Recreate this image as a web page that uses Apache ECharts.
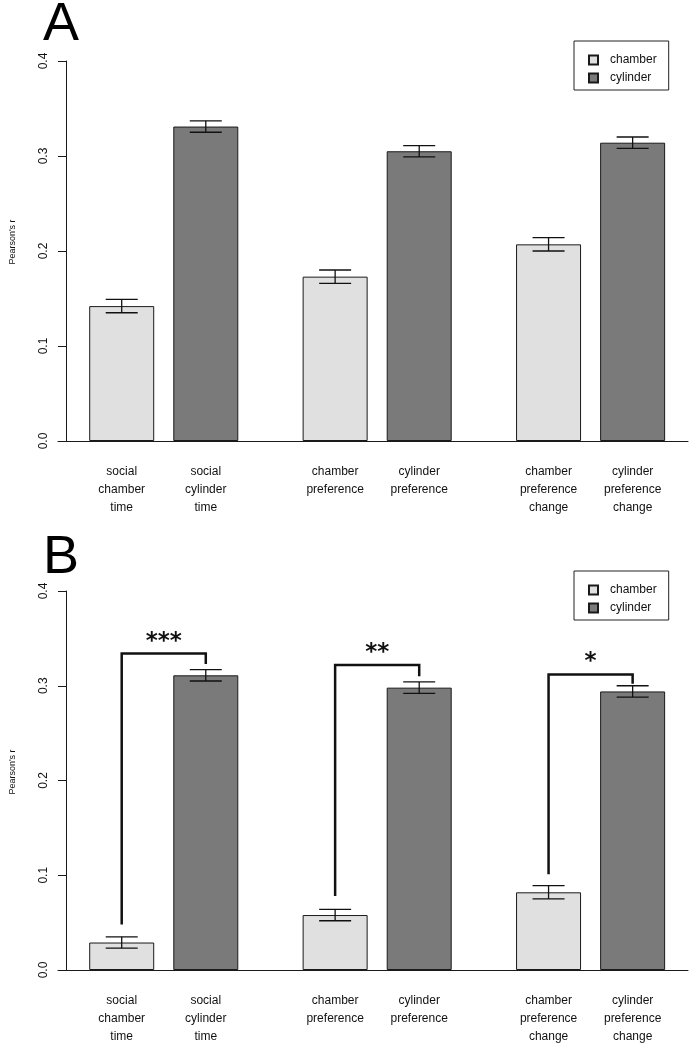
<!DOCTYPE html>
<html><head><meta charset="utf-8">
<script src="https://cdn.jsdelivr.net/npm/echarts@6/dist/echarts.min.js"></script>
<style>html,body{margin:0;padding:0;background:#fff}#c{width:699px;height:1050px}</style>
</head><body><div id="c"></div>
<script>
// ---- data ----
const panelLetters = ['A', 'B'];
const seriesNames = ['chamber', 'cylinder'];
const chamberLabels = ['social\nchamber\ntime', 'chamber\npreference', 'chamber\npreference\nchange'];
const cylinderLabels = ['social\ncylinder\ntime', 'cylinder\npreference', 'cylinder\npreference\nchange'];
const yTickValues = [0, 0.1, 0.2, 0.3, 0.4];
const yTickLabels = ['0.0', '0.1', '0.2', '0.3', '0.4'];
const yAxisTitle = "Pearson's r";

const chamberA = [0.142, 0.173, 0.207];
const chamberErrA = [0.007, 0.007, 0.007];
const cylinderA = [0.331, 0.305, 0.314];
const cylinderErrA = [0.006, 0.006, 0.006];

const chamberB = [0.029, 0.058, 0.082];
const chamberErrB = [0.006, 0.006, 0.007];
const cylinderB = [0.311, 0.298, 0.294];
const cylinderErrB = [0.006, 0.006, 0.006];

const sigStars = ['***', '**', '*'];
const bracketLeftLow = [0.048, 0.078, 0.101];
const bracketTop = [0.334, 0.322, 0.312];
const bracketRightLow = [0.323, 0.310, 0.302];

// ---- layout helpers (R barplot units: bar width 1, space 0.3 within, 1 between) ----
const FONT = "'Liberation Sans', Arial, sans-serif";
const GROUP_STEP = 3.3, FIRST_CENTER = 1.5, WITHIN_STEP = 1.3;
const chamberX = g => FIRST_CENTER + GROUP_STEP * g;
const cylinderX = g => FIRST_CENTER + WITHIN_STEP + GROUP_STEP * g;
const labelXs = [], labelTexts = [];
for (let g = 0; g < 3; g++) {
  labelXs.push(chamberX(g)); labelTexts.push(chamberLabels[g]);
  labelXs.push(cylinderX(g)); labelTexts.push(cylinderLabels[g]);
}
const labelFor = v => {
  for (let i = 0; i < labelXs.length; i++) if (Math.abs(labelXs[i] - v) < 0.01) return labelTexts[i];
  return '';
};

const panels = [
  { top: 61, height: 380, letterDy: -36, chamber: chamberA, chamberErr: chamberErrA, cylinder: cylinderA, cylinderErr: cylinderErrA, sig: false },
  { top: 591, height: 379, letterDy: -33, chamber: chamberB, chamberErr: chamberErrB, cylinder: cylinderB, cylinderErr: cylinderErrB, sig: true }
];

const AX = '#1a1a1a';
const grid = [], xAxis = [], yAxis = [], series = [], legend = [], graphic = [];

function errRender(params, api) {
  const x = api.value(0), v = api.value(1), e = api.value(2);
  const t = api.coord([x, v + e]), b = api.coord([x, v - e]);
  const hw = 16, st = { stroke: '#111', lineWidth: 1.3 };
  return { type: 'group', children: [
    { type: 'line', shape: { x1: t[0], y1: t[1], x2: b[0], y2: b[1] }, style: st },
    { type: 'line', shape: { x1: t[0] - hw, y1: t[1], x2: t[0] + hw, y2: t[1] }, style: st },
    { type: 'line', shape: { x1: b[0] - hw, y1: b[1], x2: b[0] + hw, y2: b[1] }, style: st }
  ]};
}
function bracketRender(params, api) {
  const xl = api.value(0), xr = api.value(1), lo = api.value(2), top = api.value(3), rlo = api.value(4);
  const p1 = api.coord([xl, lo]), p2 = api.coord([xl, top]), p3 = api.coord([xr, top]), p4 = api.coord([xr, rlo]);
  return { type: 'group', children: [
    { type: 'polyline', shape: { points: [p1, p2, p3, p4] }, style: { stroke: '#111', lineWidth: 2.5, fill: null } },
    { type: 'text', x: (p2[0] + p3[0]) / 2, y: p2[1] - 12,
      style: { text: sigStars[params.dataIndex], font: "bold 23px 'DejaVu Sans', sans-serif", fill: '#111', textAlign: 'center', textVerticalAlign: 'middle' } }
  ]};
}

panels.forEach((p, i) => {
  grid.push({ left: 58, right: 11, top: p.top, height: p.height, containLabel: false });
  xAxis.push({
    gridIndex: i, type: 'value', min: 0.515, max: 10.256,
    axisLine: { show: true, onZero: true, lineStyle: { color: AX, width: 1 } },
    axisTick: { show: false }, splitLine: { show: false },
    axisLabel: { customValues: labelXs, formatter: v => labelFor(v), fontSize: 12, lineHeight: 18,
      color: '#111', margin: 22, fontFamily: FONT }
  });
  yAxis.push({
    gridIndex: i, type: 'value', min: 0, max: 0.4, interval: 0.1, offset: -8,
    axisLine: { show: true, lineStyle: { color: AX, width: 1 } },
    axisTick: { show: true, length: 8, lineStyle: { color: AX } },
    splitLine: { show: false },
    axisLabel: { rotate: 90, margin: 16, fontSize: 12, color: '#111', fontFamily: FONT,
      formatter: v => { const k = yTickValues.findIndex(t => Math.abs(t - v) < 1e-9); return k >= 0 ? yTickLabels[k] : ''; } }
  });
  series.push({
    type: 'bar', name: seriesNames[0], xAxisIndex: i, yAxisIndex: i, barWidth: 65, barGap: '-100%',
    data: p.chamber.map((v, g) => [chamberX(g), v]),
    itemStyle: { color: '#e0e0e0', borderColor: AX, borderWidth: 1 }, z: 2
  });
  series.push({
    type: 'bar', name: seriesNames[1], xAxisIndex: i, yAxisIndex: i, barWidth: 65, barGap: '-100%',
    data: p.cylinder.map((v, g) => [cylinderX(g), v]),
    itemStyle: { color: '#7a7a7a', borderColor: AX, borderWidth: 1 }, z: 2
  });
  const errData = [];
  p.chamber.forEach((v, g) => errData.push([chamberX(g), v, p.chamberErr[g]]));
  p.cylinder.forEach((v, g) => errData.push([cylinderX(g), v, p.cylinderErr[g]]));
  series.push({ type: 'custom', xAxisIndex: i, yAxisIndex: i, renderItem: errRender, data: errData, z: 5, silent: true });
  if (p.sig) {
    series.push({ type: 'custom', xAxisIndex: i, yAxisIndex: i, renderItem: bracketRender, z: 6, silent: true,
      data: sigStars.map((s, g) => [chamberX(g), cylinderX(g), bracketLeftLow[g], bracketTop[g], bracketRightLow[g]]) });
  }
  legend.push({
    data: seriesNames, orient: 'vertical', left: 574, top: p.top - 20,
    borderColor: '#222', borderWidth: 1, padding: [12, 12, 5, 14],
    itemWidth: 9, itemHeight: 9, itemGap: 4, icon: 'rect', selectedMode: false,
    textStyle: { fontSize: 12, lineHeight: 14, color: '#111', fontFamily: FONT, padding: [0, 0, 0, 7] }
  });
  graphic.push({ type: 'text', x: 61, y: p.top + p.letterDy,
    style: { text: panelLetters[i], font: "54px 'Liberation Sans', Arial, sans-serif", fill: '#000', textAlign: 'center', textVerticalAlign: 'middle' } });
  graphic.push({ type: 'text', x: 13, y: p.top + 181, rotation: Math.PI / 2,
    style: { text: yAxisTitle, font: "9px 'Liberation Sans', Arial, sans-serif", fill: '#111', textAlign: 'center', textVerticalAlign: 'middle' } });
});

const chart = echarts.init(document.getElementById('c'), null, { renderer: 'canvas' });
chart.setOption({ animation: false, backgroundColor: '#fff', grid, xAxis, yAxis, series, legend, graphic });
</script></body></html>
